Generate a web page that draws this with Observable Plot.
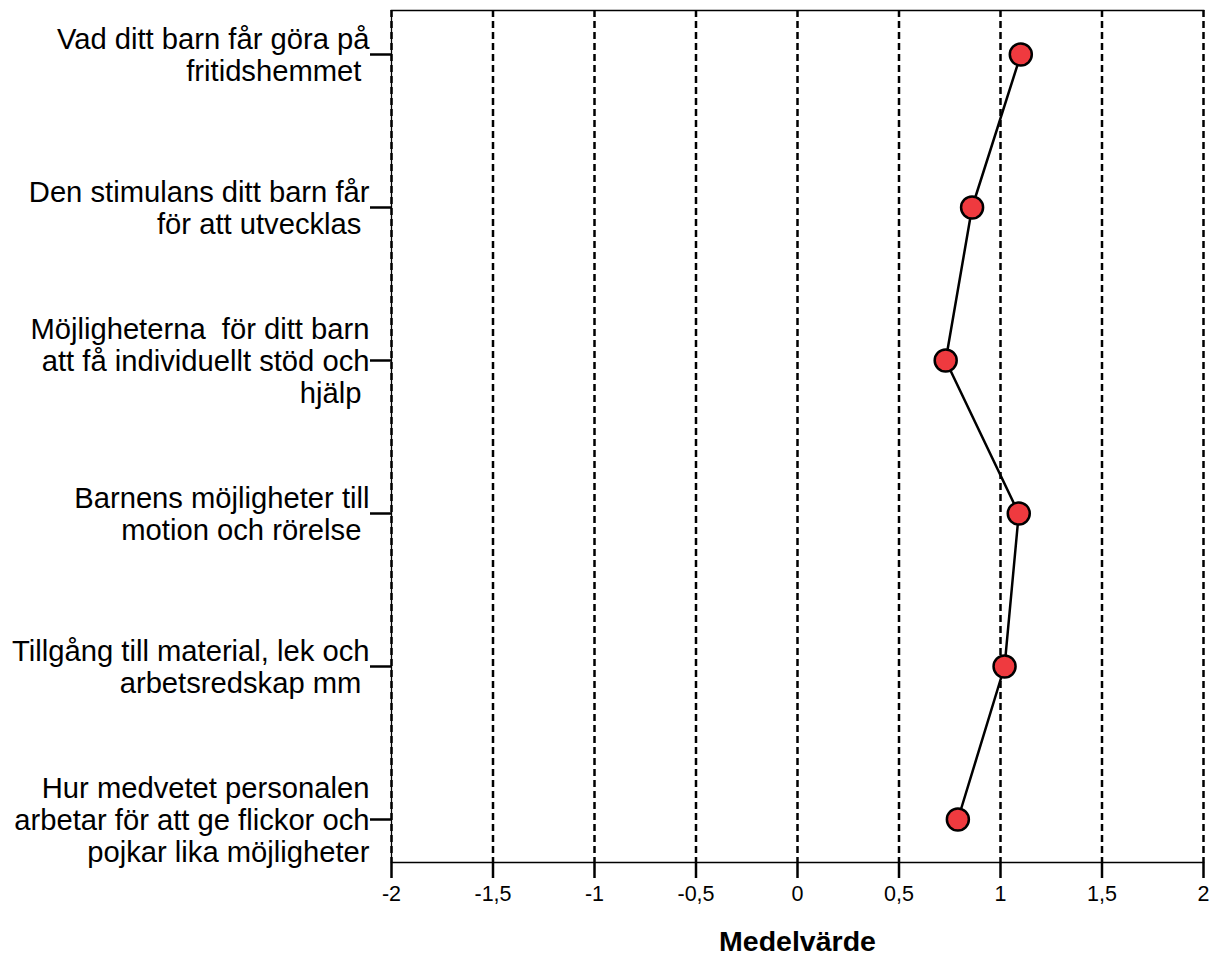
<!DOCTYPE html>
<html>
<head>
<meta charset="utf-8">
<script src="https://cdn.jsdelivr.net/npm/d3@7"></script>
<script src="https://cdn.jsdelivr.net/npm/@observablehq/plot@0.6"></script>
<style>
  html, body { margin: 0; padding: 0; background: white; }
</style>
</head>
<body>
<div id="chart"></div>
<script>
const categories = [
  "Vad ditt barn får göra på\nfritidshemmet\u00a0",
  "Den stimulans ditt barn får\nför att utvecklas\u00a0",
  "Möjligheterna  för ditt barn\natt få individuellt stöd och\nhjälp\u00a0",
  "Barnens möjligheter till\nmotion och rörelse\u00a0",
  "Tillgång till material, lek och\narbetsredskap mm\u00a0",
  "Hur medvetet personalen\narbetar för att ge flickor och\npojkar lika möjligheter"
];
const values = [1.10, 0.86, 0.73, 1.09, 1.02, 0.79];
const xTicks = [-2, -1.5, -1, -0.5, 0, 0.5, 1, 1.5, 2];
const xLabel = "Medelvärde";

const data = categories.map((c, i) => ({cat: c, value: values[i]}));

const chart = Plot.plot({
  width: 1218,
  height: 956,
  marginLeft: 391,
  marginRight: 15,
  marginTop: 10,
  marginBottom: 94,
  style: {fontFamily: "'Liberation Sans', Arial, sans-serif", background: "white", color: "black"},
  x: {domain: [-2, 2]},
  y: {type: "point", domain: categories, padding: 0.273},
  marks: [
    Plot.ruleX(xTicks, {stroke: "black", strokeWidth: 2.5, strokeDasharray: "7,4"}),
    Plot.ruleX([-2], {stroke: "black", strokeWidth: 1.3}),
    Plot.frame({anchor: "top", strokeWidth: 1.6}),
    Plot.frame({anchor: "bottom", strokeWidth: 1.6}),
    Plot.axisX({
      ticks: xTicks,
      tickSize: 16,
      tickPadding: 7,
      strokeWidth: 2.5,
      fontSize: 21.5,
      tickFormat: d => String(d).replace(".", ","),
      label: null
    }),
    Plot.axisY({
      tickSize: 21,
      tickPadding: 1,
      strokeWidth: 2.5,
      fontSize: 29.2,
      lineHeight: 1.09,
      label: null
    }),
    Plot.text([xLabel], {frameAnchor: "bottom", dy: 88, fontWeight: "bold", fontSize: 28.5}),
    Plot.line(data, {x: "value", y: "cat", stroke: "black", strokeWidth: 2.5}),
    Plot.dot(data, {x: "value", y: "cat", r: 11, fill: "#ef3a3f", stroke: "black", strokeWidth: 2.5})
  ]
});
document.getElementById("chart").appendChild(chart);
</script>
</body>
</html>
